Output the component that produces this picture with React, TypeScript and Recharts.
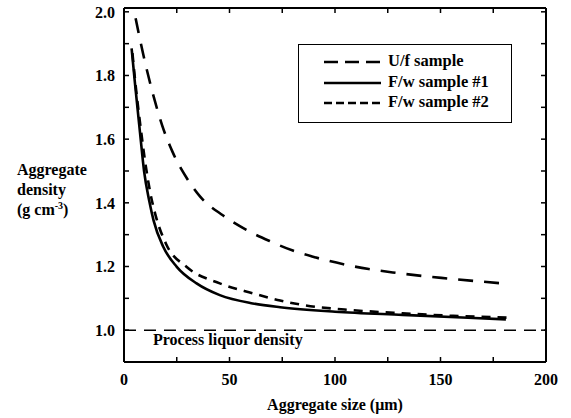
import React from 'react';
import { LineChart, Line, XAxis, YAxis, ReferenceLine, Legend } from 'recharts';

// values
const ufSize = [5.5, 9, 14, 18, 23, 30, 36, 47, 58, 69, 80, 91, 104, 116, 129, 141.5, 154, 167, 181];
const ufDensity = [1.98, 1.87, 1.735, 1.645, 1.56, 1.475, 1.42, 1.36, 1.315, 1.28, 1.25, 1.228, 1.207, 1.192, 1.18, 1.17, 1.162, 1.154, 1.146];

const fw1Size = [3.6, 5.2, 7.6, 9.5, 12, 14, 18.6, 25, 34.4, 45.4, 61, 74, 100, 132, 163, 181];
const fw1Density = [1.885, 1.775, 1.62, 1.5, 1.405, 1.345, 1.262, 1.199, 1.147, 1.11, 1.084, 1.072, 1.058, 1.048, 1.039, 1.034];

const fw2Size = [4, 5.5, 8, 10, 12.5, 15, 20, 29.6, 45.4, 61, 74, 85, 108, 132, 156, 184];
const fw2Density = [1.87, 1.77, 1.63, 1.53, 1.43, 1.36, 1.27, 1.199, 1.147, 1.116, 1.093, 1.079, 1.063, 1.053, 1.045, 1.039];

const liquorDensity = 1.0;

// every tick mark; only the major ones get a label
const xTicks = [0, 25, 50, 75, 100, 125, 150, 175, 200];
const yTicks = [1.0, 1.1, 1.2, 1.3, 1.4, 1.5, 1.6, 1.7, 1.8, 1.9, 2.0];

const zip = (xs: number[], ys: number[]) => xs.map((x, i) => ({ x, y: ys[i] }));
const ufData = zip(ufSize, ufDensity);
const fw1Data = zip(fw1Size, fw1Density);
const fw2Data = zip(fw2Size, fw2Density);

const FONT = "'Liberation Serif', 'Times New Roman', serif";
const tickStyle = { fill: '#000', fontSize: 16, fontWeight: 'bold', fontFamily: FONT };
const hiddenTick = { fill: 'none', fontSize: 1 };
const X_DOMAIN: [number, number] = [0, 200];
const Y_DOMAIN: [number, number] = [0.9, 2.012];
const tickLineStyle = { stroke: '#000', strokeWidth: 1.5 };
const frameLine = { stroke: '#000', strokeWidth: 2 };

const xLabel = (v: number) => (v % 50 === 0 ? String(v) : '');
const yLabel = (v: number) => (Math.round(v * 10) % 2 === 0 ? v.toFixed(1) : '');

const series = [
  { name: 'U/f sample', data: ufData, dash: '15 11', legendDash: '14 7' },
  { name: 'F/w sample #1', data: fw1Data, dash: undefined, legendDash: undefined },
  { name: 'F/w sample #2', data: fw2Data, dash: '9 7', legendDash: '8 4' },
];

const LegendBox = () => (
  <div
    style={{
      border: '1.5px solid #000',
      padding: '6px 0 9px 0',
      fontFamily: FONT,
      fontWeight: 'bold',
      fontSize: 16.5,
      background: '#fff',
    }}
  >
    {series.map((s) => (
      <div key={s.name} style={{ display: 'flex', alignItems: 'center', height: 20.5 }}>
        <svg width={89} height={20} style={{ display: 'block' }}>
          <line x1={25} x2={82} y1={11} y2={11} stroke="#000" strokeWidth={2.6} strokeDasharray={s.legendDash} />
        </svg>
        <span>{s.name}</span>
      </div>
    ))}
  </div>
);

export default function App() {
  return (
    <div style={{ position: 'absolute', left: 0, top: 0, width: 571, height: 418, background: '#fff' }}>
      <LineChart width={571} height={418} data={ufData} margin={{ top: 8, right: 24, left: 0, bottom: 0 }}>
        <XAxis
          dataKey="x"
          type="number"
          domain={X_DOMAIN}
          ticks={xTicks}
          interval={0}
          allowDataOverflow
          height={56}
          tickLine={tickLineStyle}
          tickSize={-5}
          tickMargin={17}
          axisLine={frameLine}
          tick={tickStyle}
          tickFormatter={xLabel}
          label={{ value: 'Aggregate size (\u03bcm)', position: 'insideBottom', offset: 8, style: tickStyle }}
        />
        <XAxis
          xAxisId="top"
          dataKey="x"
          orientation="top"
          type="number"
          domain={X_DOMAIN}
          ticks={xTicks}
          interval={0}
          allowDataOverflow
          mirror
          axisLine={frameLine}
          tickSize={5}
          tickLine={tickLineStyle}
          tick={hiddenTick}
        />
        <YAxis
          dataKey="y"
          type="number"
          domain={Y_DOMAIN}
          ticks={yTicks}
          interval={0}
          allowDataOverflow
          width={124}
          tickLine={tickLineStyle}
          tickSize={-5}
          tickMargin={14}
          axisLine={frameLine}
          tick={tickStyle}
          tickFormatter={yLabel}
        />
        <YAxis
          yAxisId="right"
          dataKey="y"
          orientation="right"
          type="number"
          domain={Y_DOMAIN}
          ticks={yTicks}
          interval={0}
          allowDataOverflow
          width={1}
          axisLine={frameLine}
          tickSize={-5}
          tickLine={tickLineStyle}
          tick={hiddenTick}
        />
        <ReferenceLine
          y={liquorDensity}
          stroke="#000"
          strokeWidth={1.5}
          strokeDasharray="12 8"
          label={{ value: 'Process liquor density', position: 'insideTopLeft', offset: 3, dx: 26, style: tickStyle }}
        />
        {series.map((s) => (
          <Line
            key={s.name}
            data={s.data}
            dataKey="y"
            name={s.name}
            type="monotone"
            stroke="#000"
            strokeWidth={2.6}
            strokeDasharray={s.dash}
            dot={false}
            activeDot={false}
            isAnimationActive={false}
          />
        ))}
        <Legend
          layout="vertical"
          align="center"
          verticalAlign="middle"
          wrapperStyle={{ left: 298, top: 44, width: 214 }}
          content={() => <LegendBox />}
        />
      </LineChart>
      <div
        style={{
          position: 'absolute',
          left: 17,
          top: 160,
          fontFamily: FONT,
          fontWeight: 'bold',
          fontSize: 16,
          lineHeight: '20px',
          color: '#000',
        }}
      >
        <div>Aggregate</div>
        <div>density</div>
        <div>
          (g cm<span style={{ fontSize: 10, position: 'relative', top: -6 }}>-3</span>)
        </div>
      </div>
    </div>
  );
}
